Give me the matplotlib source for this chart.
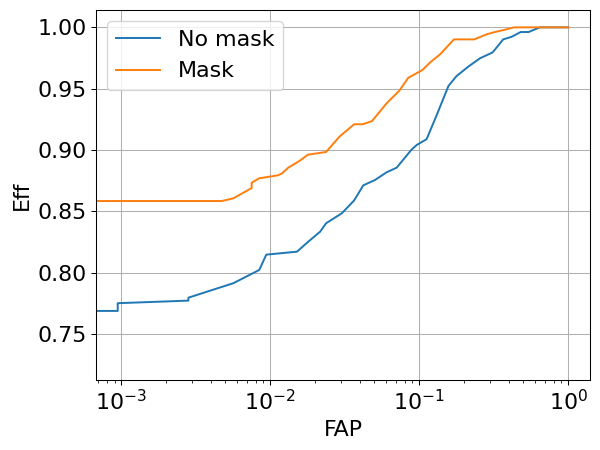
import numpy as np
import matplotlib
matplotlib.use("Agg")
import matplotlib.pyplot as plt

# Blue: "No mask"
fap_nomask = [0.0, 0.0, 9.46e-4, 9.46e-4, 2.82e-3, 2.82e-3, 5.65e-3, 8.43e-3, 9.4e-3,
              1.51e-2, 1.80e-2, 2.16e-2, 2.37e-2, 3.02e-2, 3.65e-2, 4.21e-2, 5.04e-2,
              6.03e-2, 7.05e-2, 8.86e-2, 9.61e-2, 0.112, 0.131, 0.157, 0.178, 0.213,
              0.255, 0.311, 0.366, 0.417, 0.480, 0.542, 0.645, 1.0]
eff_nomask = [0.726, 0.7688, 0.7688, 0.7751, 0.7772, 0.7796, 0.7914, 0.8022, 0.8147,
              0.8171, 0.8253, 0.8334, 0.8403, 0.8484, 0.8588, 0.8712, 0.8755,
              0.8818, 0.8856, 0.9002, 0.9041, 0.9088, 0.9285, 0.9522, 0.9603, 0.9679,
              0.9747, 0.9796, 0.9902, 0.9923, 0.9962, 0.9962, 1.0, 1.0]

# Orange: "Mask"
fap_mask = [0.0, 4.72e-3, 5.65e-3, 7.50e-3, 7.50e-3, 8.39e-3, 1.13e-2, 1.20e-2, 1.32e-2,
            1.58e-2, 1.79e-2, 2.37e-2, 2.92e-2, 3.66e-2, 4.18e-2, 4.82e-2, 6.04e-2,
            7.34e-2, 8.44e-2, 0.105, 0.119, 0.138, 0.171, 0.234, 0.283, 0.322, 0.386,
            0.433, 1.0]
eff_mask = [0.8584, 0.8584, 0.8606, 0.8690, 0.8733, 0.8769, 0.8794, 0.8810, 0.8856,
            0.8913, 0.8962, 0.8984, 0.9110, 0.9210, 0.9210, 0.9236, 0.9381,
            0.9483, 0.9589, 0.9652, 0.9717, 0.9780, 0.9902, 0.9902, 0.9943, 0.9962, 0.9984,
            1.0, 1.0]

plt.rcParams['font.size'] = 17
fig = plt.figure(figsize=(6.4, 4.8), dpi=93.75)
ax = fig.add_subplot(111)
ax.plot(fap_nomask, eff_nomask, label="No mask", color="#1f77b4")
ax.plot(fap_mask, eff_mask, label="Mask", color="#ff7f0e")
ax.set_xscale("log")
ax.set_xlim(10 ** -3.172, 10 ** 0.148)
ax.set_ylim(0.7125, 1.0139)
ax.set_xlabel("FAP")
ax.set_ylabel("Eff")
ax.grid(True)
ax.legend(loc="upper left")
fig.subplots_adjust(left=0.1595, right=0.9838, top=0.9771, bottom=0.1556)
fig.savefig("out.png")
